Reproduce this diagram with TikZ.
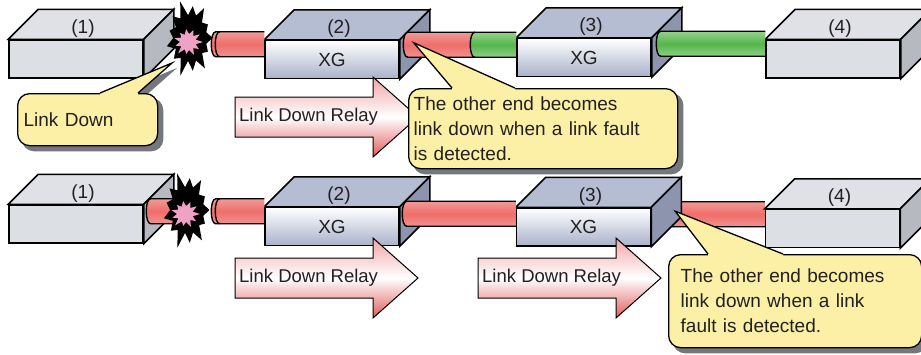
\documentclass[tikz,border=0pt]{standalone}
\usepackage{fontspec}
\setmainfont{Liberation Sans}
\usetikzlibrary{calc,positioning}

\pgfdeclarelayer{hidden}
\pgfdeclarelayer{faces}
\pgfdeclarelayer{tubes}
\pgfdeclarelayer{shade}
\pgfsetlayers{hidden,faces,tubes,shade,main}

\definecolor{ink}{HTML}{231F20}
\definecolor{greyfront}{HTML}{DCDFE4}
\definecolor{greytop}{HTML}{DFE1E6}
\definecolor{greyside}{HTML}{B6BAC0}
\definecolor{xgtopc}{HTML}{B5BDD2}
\definecolor{xgsidec}{HTML}{8C95AD}
\definecolor{xgbottom}{HTML}{A9B2CA}
\definecolor{notefill}{HTML}{FBF0A6}
\definecolor{noteshadow}{HTML}{74777C}
\definecolor{redtop}{HTML}{F29A96}
\definecolor{redmid}{HTML}{EE6E6A}
\definecolor{redbot}{HTML}{F1928E}
\definecolor{greentop}{HTML}{94D28B}
\definecolor{greenmid}{HTML}{55B64B}
\definecolor{greenbot}{HTML}{8ECF86}
\definecolor{relaytop}{HTML}{F2A4A4}
\definecolor{relaybot}{HTML}{E25C5C}
\definecolor{blastpink}{HTML}{F0A2C6}

% box with top and side faces
\newcommand\netbox[5]{%
	\node[#3box] (#1) at (#2) {#5};
	\begin{pgfonlayer}{faces}
		\draw[#3top] (#1.north west) -- ++(30,-30) -- ($(#1.north east)+(30,-30)$) -- (#1.north east) -- cycle;
		\draw[#3side] (#1.north east) -- ++(30,-30) -- ($(#1.south east)+(30,-30)$) -- (#1.south east) -- cycle;
	\end{pgfonlayer}
	\node (#1n) at ($(#1.north)+(7,-11)$) {#4};
}
% cable with a rounded left end
\newcommand\tube[3]{%
	\path[#1] ($(#2)+(0,-12.5)$) .. controls ($(#2)+(-6,-12.5)$) and ($(#2)+(-6,12.5)$) .. ($(#2)+(0,12.5)$) -- ($(#2 -| #3)+(0,12.5)$) -- ($(#2 -| #3)+(0,-12.5)$) -- cycle;
	\draw[tubeline] ($(#2 -| #3)+(0,-12.5)$) -- ($(#2)+(0,-12.5)$) .. controls ($(#2)+(-6,-12.5)$) and ($(#2)+(-6,12.5)$) .. ($(#2)+(0,12.5)$) -- ($(#2 -| #3)+(0,12.5)$);
}
% cut end of a cable
\newcommand\tubecut[1]{%
	\draw[tubeline] ($(#1)+(4,-12.5)$) .. controls ($(#1)+(-2,-12.5)$) and ($(#1)+(-2,12.5)$) .. ($(#1)+(4,12.5)$);
}
% fault mark
\newcommand\blast[1]{%
	\begin{scope}[shift={(#1)}, xscale=.7]
		\fill[black] (0:32) \foreach \a/\r in {14/24,28/29,41/23,55/37,69/24,83/33,97/23,110/40,124/24,138/31,152/23,166/34,180/24,194/30,208/23,221/33,235/24,249/39,263/23,277/32,291/24,304/36,318/23,332/29,346/24} { -- (\a:\r) } -- cycle;
	\end{scope}
	\begin{scope}[shift={($(#1)+(-2,4)$)}]
		\fill[blastpink] (0:15) \foreach \a/\r in {16/8,33/13,49/8,65/14,82/8,98/12,114/8,131/15,147/8,164/13,180/8,196/14,213/8,229/12,245/8,262/13,278/8,294/13,311/8,327/14,343/8} { -- (\a:\r) } -- cycle;
	\end{scope}
}
% relay arrow
\newcommand\relay[3]{%
	\path[relayfill] (#2) ++(0,-20) -- ++(138,0) -- ++(0,-20) -- ++(45,40) -- ++(-45,40) -- ++(0,-20) -- ++(-138,0) -- cycle;
	\node[relaytext] (#1) at (#2) {#3};
}
% pointer of a note
\newcommand\pointer[4]{%
	\begin{pgfonlayer}{shade}
		\fill[noteshadow] ($(#1.north west)+(#3,0)+(5,5)$) -- ($(#2)+(5,5)$) -- ($(#1.north west)+(#4,0)+(5,5)$) -- cycle;
		\fill[noteshadow, rounded corners=12pt] ($(#1.north west)+(5,5)$) rectangle ($(#1.south east)+(5,5)$);
	\end{pgfonlayer}
	\fill[notefill] ($(#1.north west)+(#3,3)$) -- ($(#1.north west)+(#3,0)$) -- (#2) -- ($(#1.north west)+(#4,0)$) -- ($(#1.north west)+(#4,3)$) -- cycle;
	\draw[noteline] ($(#1.north west)+(#3,0)$) -- (#2) -- ($(#1.north west)+(#4,0)$);
}

\begin{document}
\begin{tikzpicture}[x=1pt, y=-1pt,
	every node/.style={font=\fontsize{19}{25}\selectfont, text=ink},
	front/.style={draw, line width=1.5pt, minimum width=134pt, minimum height=38pt, inner sep=0pt},
	plainbox/.style={front, fill=greyfront},
	plaintop/.style={draw, line width=1.5pt, fill=greytop},
	plainside/.style={draw, line width=1.5pt, fill=greyside},
	xgbox/.style={front, top color=white, bottom color=xgbottom},
	xgtop/.style={draw, line width=1.5pt, fill=xgtopc},
	xgside/.style={draw, line width=1.5pt, fill=xgsidec},
	tubeline/.style={line width=1.4pt},
	redtube/.style={top color=redtop, bottom color=redbot, middle color=redmid},
	greentube/.style={top color=greentop, bottom color=greenbot, middle color=greenmid},
	relayfill/.style={draw, line width=1pt, top color=relaytop, bottom color=relaybot, middle color=white},
	relaytext/.style={anchor=west, inner sep=4pt, font=\fontsize{18.5}{25}\selectfont},
	note/.style={draw, line width=1.3pt, fill=notefill, rounded corners=12pt, anchor=north west, align=left, inner ysep=0pt},
	noteline/.style={line width=1.3pt}]
\useasboundingbox (0,0) rectangle (921,354);

% link down on the port of (1)
\netbox{a1}{76,59}{plain}{(1)}{}
\netbox{a2}{332,59.5}{xg}{(2)}{XG}
\netbox{a3}{584,57.5}{xg}{(3)}{XG}
\netbox{a4}{833,59}{plain}{(4)}{}
\coordinate (blasta) at (190,38);
\coordinate (ta1) at ($(a1.north east)+(72,5)$);
\coordinate (ta2) at ($(a2.north east)+(8,5)$);
\coordinate (ta3) at ($(a2.north east)+(75,5)$);
\coordinate (ta4) at ($(a3.north east)+(9,6)$);
\begin{pgfonlayer}{tubes}
	\tube{redtube}{ta1}{a2.west}
	\tubecut{ta1}
	\tube{redtube}{ta2}{ta3}
	\tube{greentube}{ta3}{a3.west}
	\tube{greentube}{ta4}{a4.west}
\end{pgfonlayer}
\relay{r1}{235,117}{Link Down Relay}
\node[note, minimum width=140pt, minimum height=52pt, text width=128pt, inner xsep=6pt] (ld) at (17,93) {Link Down};
\coordinate (ldtip) at ($(blasta)+(-18,25)$);
\pointer{ld}{ldtip}{83}{121}
\node[note, minimum width=269pt, minimum height=80pt, text width=259pt, inner xsep=5pt] (n1) at (408,88) {The other end becomes\\link down when a link fault\\is detected.};
\coordinate (n1tip) at ($(a2.north east)+(14,3)$);
\pointer{n1}{n1tip}{44}{107}
\blast{blasta}

% relay on to (3)
\netbox{b1}{76,224}{plain}{(1)}{}
\netbox{b2}{332,226.5}{xg}{(2)}{XG}
\netbox{b3}{583.5,227}{xg}{(3)}{XG}
\netbox{b4}{832.5,228.5}{plain}{(4)}{}
\coordinate (blastb) at (187,210);
\coordinate (tb0) at ($(b1.north east)+(7,7)$);
\coordinate (tb1) at ($(b1.north east)+(72,7)$);
\coordinate (tb2) at ($(b2.north east)+(7,7)$);
\coordinate (tb3) at ($(b3.north east)+(12,7)$);
\begin{pgfonlayer}{tubes}
	\tube{redtube}{tb0}{blastb}
	\tube{redtube}{tb1}{b2.west}
	\tubecut{tb1}
	\tube{redtube}{tb2}{b3.west}
\end{pgfonlayer}
\begin{pgfonlayer}{hidden}
	\tube{redtube}{tb3}{b4.west}
\end{pgfonlayer}
\relay{r2}{235,278}{Link Down Relay}
\relay{r3}{478,278}{Link Down Relay}
\node[note, minimum width=253pt, minimum height=93pt, text width=229pt, inner xsep=12pt] (n2) at (668,254) {The other end becomes\\link down when a link\\fault is detected.};
\coordinate (n2tip) at ($(b3.north east)+(24,4)$);
\pointer{n2}{n2tip}{40}{115}
\blast{blastb}
\end{tikzpicture}
\end{document}
